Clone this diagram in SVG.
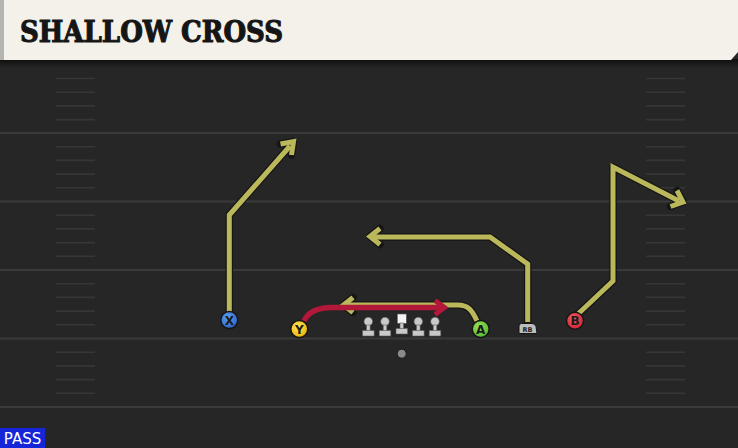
<svg xmlns="http://www.w3.org/2000/svg" width="738" height="448" viewBox="0 0 738 448">
<defs>
<style>
.fl{stroke:#3a3a3a;stroke-width:2;fill:none}
.hs{stroke:#363636;stroke-width:1.6;fill:none}
.ro{stroke:#151515;stroke-width:7.5;fill:none;stroke-linejoin:round;stroke-linecap:round}
.ry{stroke:#bab85b;stroke-width:5;fill:none;stroke-linejoin:miter;stroke-linecap:butt}
.rr{stroke:#b2183a;stroke-width:5.5;fill:none;stroke-linejoin:miter}
.pl{stroke:#151515;stroke-width:1.5}
.lt{font-family:"DejaVu Sans","Liberation Sans",sans-serif;font-weight:bold;fill:#1a1a1a;text-anchor:middle}
.ol{fill:#c9c9c9;stroke:#5a5a5a;stroke-width:0.6}
</style>
<linearGradient id="hdrsh" x1="0" y1="0" x2="0" y2="1">
<stop offset="0" stop-color="#0e0e0e"/>
<stop offset="1" stop-color="#262626"/>
</linearGradient>
<radialGradient id="gb" cx="0.4" cy="0.35" r="0.7"><stop offset="0" stop-color="#5b9cf0"/><stop offset="1" stop-color="#2b63c4"/></radialGradient>
<radialGradient id="gy" cx="0.4" cy="0.35" r="0.7"><stop offset="0" stop-color="#ffe35a"/><stop offset="1" stop-color="#e8b400"/></radialGradient>
<radialGradient id="gg" cx="0.4" cy="0.35" r="0.7"><stop offset="0" stop-color="#9be05a"/><stop offset="1" stop-color="#4fb82a"/></radialGradient>
<radialGradient id="gr" cx="0.4" cy="0.35" r="0.7"><stop offset="0" stop-color="#f25a60"/><stop offset="1" stop-color="#cf2233"/></radialGradient>
</defs>
<rect width="738" height="448" fill="#262626"/>
<g id="field">
<line class="fl" x1="0" y1="133" x2="738" y2="133"/>
<line class="fl" x1="0" y1="201.5" x2="738" y2="201.5"/>
<line class="fl" x1="0" y1="270" x2="738" y2="270"/>
<line class="fl" x1="0" y1="338.5" x2="738" y2="338.5"/>
<line class="fl" x1="0" y1="407" x2="738" y2="407"/>
<path class="hs" d="M56 78.5H95M56 92.2H95M56 105.9H95M56 119.6H95M56 146.7H95M56 160.4H95M56 174.1H95M56 187.8H95M56 215.2H95M56 228.9H95M56 242.6H95M56 256.3H95M56 283.7H95M56 297.4H95M56 311.1H95M56 324.8H95M56 352.2H95M56 365.9H95M56 379.6H95M56 393.3H95"/>
<path class="hs" d="M646 78.5H685M646 92.2H685M646 105.9H685M646 119.6H685M646 146.7H685M646 160.4H685M646 174.1H685M646 187.8H685M646 215.2H685M646 228.9H685M646 242.6H685M646 256.3H685M646 283.7H685M646 297.4H685M646 311.1H685M646 324.8H685M646 352.2H685M646 365.9H685M646 379.6H685M646 393.3H685"/>
</g>
<g id="header">
<rect x="0" y="59" width="738" height="9" fill="url(#hdrsh)"/>
<path d="M0 0H738V52L731 60H0Z" fill="#f4f1ea"/>
<rect x="0" y="0" width="4" height="60" fill="#b4b4b0"/>
<text x="20" y="42" font-family="'DejaVu Serif Condensed','DejaVu Serif',serif" font-weight="bold" font-size="29" fill="#151515" stroke="#151515" stroke-width="1" textLength="263" lengthAdjust="spacingAndGlyphs">SHALLOW CROSS</text>
</g>
<g id="connectors">
<g id="route-x">
<path class="ro" d="M229.3 312V215L290 146M280.5 144L293.5 141.5L291.5 155"/>
<path class="ry" d="M229.3 312V215L290 146"/>
<path class="ry" d="M280.5 144L293.5 141.5L291.5 155"/>
</g>
<g id="route-b">
<path class="ro" d="M578 314L613 281V167L679 201M677 190.5L683 202L670.5 206.5"/>
<path class="ry" d="M578 314L613 281V167L679 201"/>
<path class="ry" d="M677 190.5L683 202L670.5 206.5"/>
</g>
<g id="route-rb">
<path class="ro" d="M527.7 322V264L490 237H373M380 228.5L370 236.5L380 244.5"/>
<path class="ry" d="M527.7 322V264L490 237H373"/>
<path class="ry" d="M380 228.5L370 236.5L380 244.5"/>
</g>
<g id="route-a">
<path class="ro" d="M477 321C472 310 468 305 458 305H346M353 297.5L343.5 305L353 312.5"/>
<path class="ry" d="M477 321C472 310 468 305 458 305H346"/>
<path class="ry" d="M353 297.5L343.5 305L353 312.5"/>
</g>
<g id="route-y">
<path class="rr" d="M304 321C308 312 318 307.5 332 307.5H441"/>
<path d="M435 300.5L444.5 307.5L435 314.5" stroke="#b2183a" stroke-width="5" fill="none"/>
</g>
</g>
<g id="ol-lt"><circle class="ol" cx="368.3" cy="321.5" r="4.3"/><rect class="ol" x="366.5" y="325" width="3.6" height="6"/><rect class="ol" x="362.5" y="330.5" width="11.6" height="5.5"/></g>
<g id="ol-lg"><circle class="ol" cx="385" cy="321.5" r="4.3"/><rect class="ol" x="383.2" y="325" width="3.6" height="6"/><rect class="ol" x="379.2" y="330.5" width="11.6" height="5.5"/></g>
<g id="ol-c"><rect x="397.3" y="314" width="9" height="9.3" fill="#f4f4f4" stroke="#5a5a5a" stroke-width="0.6"/><rect class="ol" x="400" y="323" width="3.6" height="6"/><rect class="ol" x="396" y="328.5" width="11.6" height="5.5"/></g>
<g id="ol-rg"><circle class="ol" cx="418.3" cy="321.5" r="4.3"/><rect class="ol" x="416.5" y="325" width="3.6" height="6"/><rect class="ol" x="412.5" y="330.5" width="11.6" height="5.5"/></g>
<g id="ol-rt"><circle class="ol" cx="435" cy="321.5" r="4.3"/><rect class="ol" x="433.2" y="325" width="3.6" height="6"/><rect class="ol" x="429.2" y="330.5" width="11.6" height="5.5"/></g>
<g id="qb"><circle cx="401.7" cy="353.7" r="4.5" fill="#8a8a8a" stroke="#1a1a1a" stroke-width="1"/></g>
<g id="player-x"><circle class="pl" cx="229.3" cy="320" r="8.5" fill="url(#gb)"/><text class="lt" x="229.3" y="324.5" font-size="12">X</text></g>
<g id="player-y"><circle class="pl" cx="299.3" cy="329" r="8.5" fill="url(#gy)"/><text class="lt" x="299.3" y="333.5" font-size="12">Y</text></g>
<g id="player-a"><circle class="pl" cx="480.7" cy="329" r="8.5" fill="url(#gg)"/><text class="lt" x="480.7" y="333.5" font-size="12">A</text></g>
<g id="player-b"><circle class="pl" cx="575" cy="320.7" r="8.5" fill="url(#gr)"/><text class="lt" x="575" y="325.2" font-size="12">B</text></g>
<g id="player-rb"><path d="M519 333.5V326Q519 323.5 521.5 323.5H532Q535 323.5 536 326.5L537 333.5Z" fill="#bdbdbd" stroke="#151515" stroke-width="1"/><text class="lt" x="527.5" y="331.5" font-size="6.5">RB</text></g>
<g id="tag"><rect x="0" y="428" width="45" height="20" fill="#1526d8"/><text x="22.5" y="444" font-family="'DejaVu Sans','Liberation Sans',sans-serif" font-size="15" fill="#ffffff" text-anchor="middle">PASS</text></g>
</svg>
